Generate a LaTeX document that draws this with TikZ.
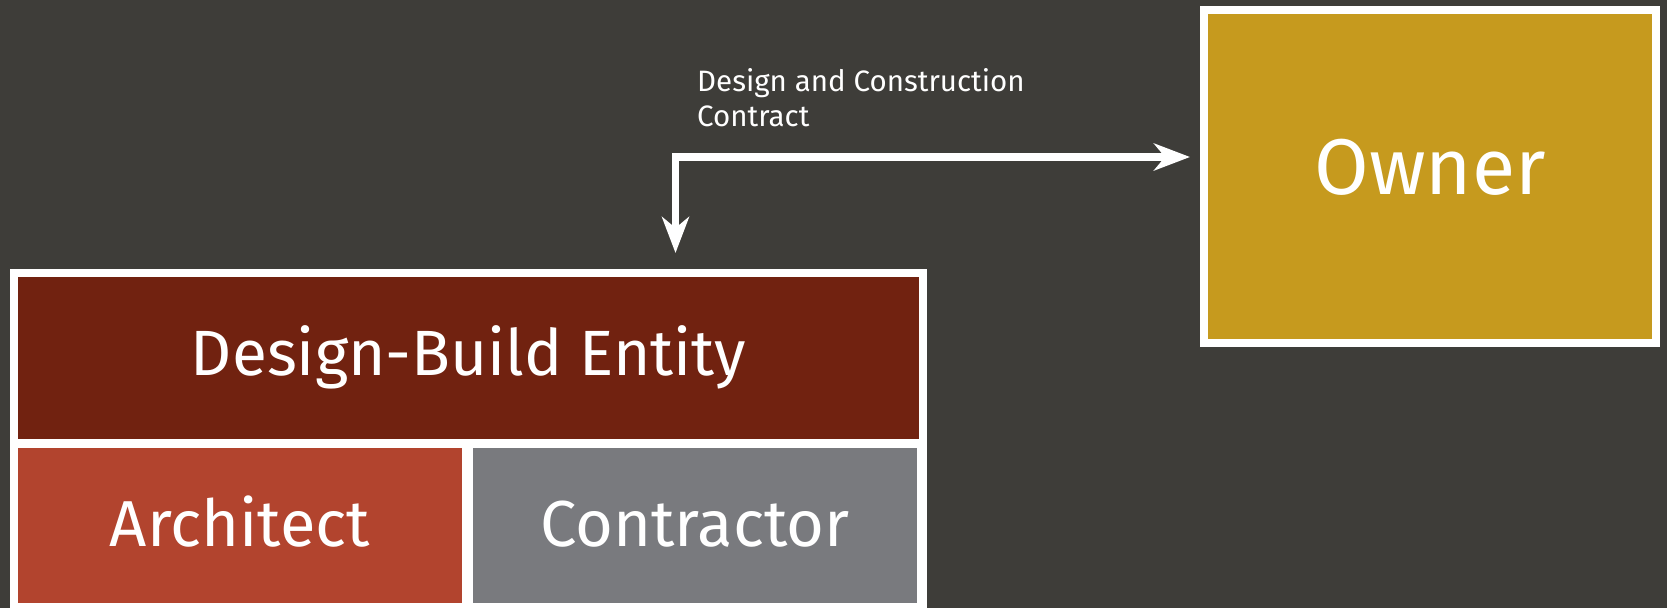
\documentclass[tikz,border=0pt]{standalone}
\usepackage{fontspec}
\setmainfont{Fira Sans}
\usetikzlibrary{arrows.meta}
\definecolor{slate}{HTML}{3E3D39}
\definecolor{dbred}{HTML}{712210}
\definecolor{archred}{HTML}{B2442E}
\definecolor{contrgray}{HTML}{797A7E}
\definecolor{ownergold}{HTML}{C69A1E}
\begin{document}
\begin{tikzpicture}[line join=miter,>={Stealth[length=36pt,width=27pt,inset=11pt]},x=1pt,y=-1pt,
		box/.style={rectangle,inner sep=0pt,outer sep=0pt,text=white},
		link/.style={draw=white,line width=7.6pt},
		lbl/.style={text=white,inner sep=0pt,align=left,font=\fontsize{29.5}{35}\selectfont}]
		\fill[slate] (0,0) rectangle (1667,608);
		\useasboundingbox (0,0) rectangle (1667,608);
		\node[box,fill=white,minimum width=917pt,minimum height=339pt] (frame) at (468.5,438.5) {};
		\node[box,fill=dbred,minimum width=901pt,minimum height=162pt,text height=34pt,text depth=0pt,font=\fontsize{64}{70}\selectfont] (dbe) at (468.5,358) {Design-Build Entity};
		\node[box,fill=archred,minimum width=444pt,minimum height=155pt,text height=41.8pt,text depth=0pt,font=\fontsize{65}{70}\selectfont] (arch) at (240,525.5) {Architect};
		\node[box,fill=contrgray,minimum width=444pt,minimum height=155pt,text height=41.8pt,text depth=0pt,font=\fontsize{65}{70}\selectfont] (contr) at (695,525.5) {Contractor};
		\node[box,fill=ownergold,draw=white,line width=8pt,outer sep=4pt,minimum width=452pt,minimum height=333pt,text height=36.4pt,text depth=0pt,font=\fontsize{79}{90}\selectfont] (owner) at (1430,176.5) {Owner};
		\coordinate (turn) at (675.5,157);
		\draw[link,<->,shorten <=16pt,shorten >=10pt] (frame.north -| turn) |- (owner.west |- turn);
		\node[lbl,anchor=base west] (contract) at (697,126) {Design and Construction\\Contract};
	\end{tikzpicture}
\end{document}
